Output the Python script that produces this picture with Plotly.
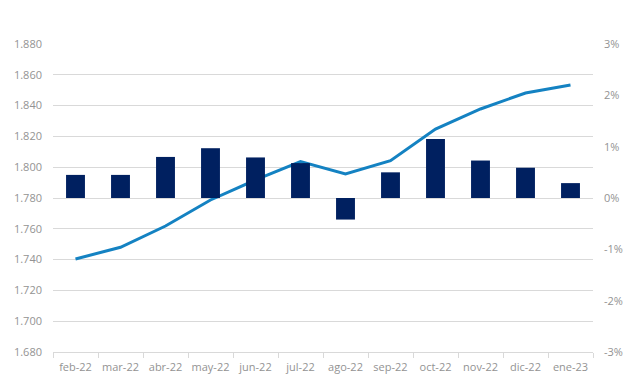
import plotly.graph_objects as go

categories = ["feb-22", "mar-22", "abr-22", "may-22", "jun-22", "jul-22",
              "ago-22", "sep-22", "oct-22", "nov-22", "dic-22", "ene-23"]
monthly_change_pct = [0.45, 0.45, 0.80, 0.97, 0.79, 0.68, -0.42, 0.50, 1.15, 0.73, 0.59, 0.29]
level_values = [1740.4, 1748.0, 1761.8, 1778.7, 1791.7, 1803.6, 1795.6, 1804.2, 1824.8, 1837.8, 1848.2, 1853.4]

left_ticks = list(range(1680, 1881, 20))
right_ticks = [-3, -2, -1, 0, 1, 2, 3]
right_labels = ["-3%", "-2%", "-1%", "0%", "1%", "2%", "3%"]

fig = go.Figure()
fig.add_trace(go.Bar(x=categories, y=monthly_change_pct, yaxis="y2",
                     marker=dict(color="#002060", line=dict(width=0)),
                     width=0.42, showlegend=False))
fig.add_trace(go.Scatter(x=categories, y=level_values, yaxis="y", mode="lines",
                         line=dict(color="#1482c2", width=3), showlegend=False))

font = dict(family="Open Sans, Noto Sans, sans-serif", size=11, color="#939393")
fig.update_layout(
    width=640, height=384,
    margin=dict(l=45, r=55, t=36, b=40, autoexpand=False),
    paper_bgcolor="white", plot_bgcolor="white",
    font=font,
    xaxis=dict(type="category", showgrid=False, showline=True, linecolor="#d9d9d9",
               ticks="outside", tickson="boundaries", ticklen=5, tickcolor="#d9d9d9",
               tickangle=0, automargin=False, ticklabelstandoff=5, tickfont=font),
    yaxis=dict(range=[1680, 1880], tickvals=left_ticks,
               ticktext=[f"{v//1000}.{v%1000:03d}" for v in left_ticks],
               tickmode="array", automargin=False,
               showgrid=True, gridcolor="#d9d9d9", gridwidth=1, zeroline=False,
               showline=False, ticks="", ticklabelstandoff=10, tickfont=font),
    yaxis2=dict(range=[-3, 3], overlaying="y", side="right", tickvals=right_ticks,
                ticktext=right_labels, tickmode="array", showgrid=False, zeroline=False,
                showline=False, ticks="", ticklabelstandoff=10, automargin=False,
                tickfont=font),
)
fig.write_html("out.html")
